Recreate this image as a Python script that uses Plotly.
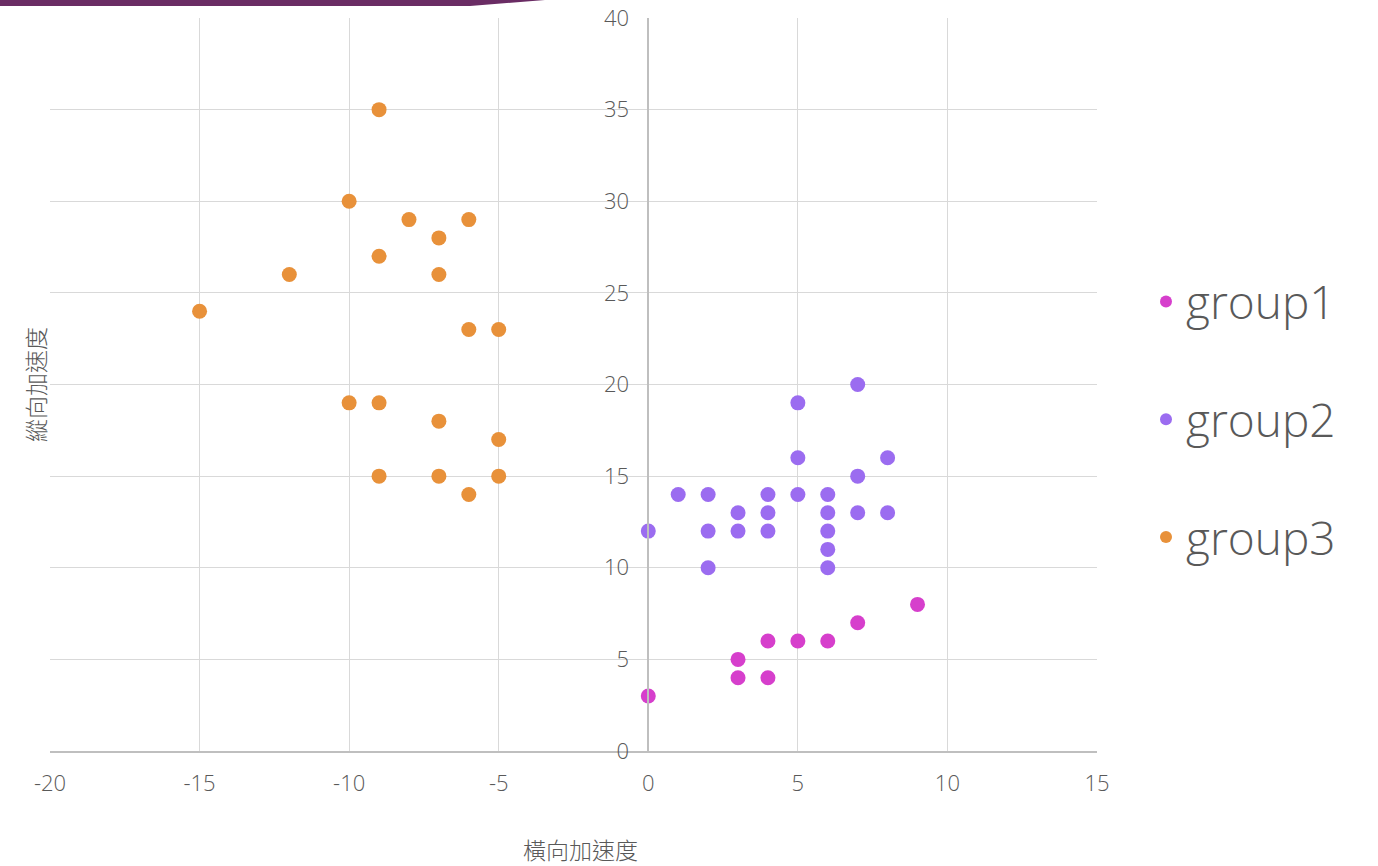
import plotly.graph_objects as go

# Lateral (x) and longitudinal (y) acceleration per group
group1_x = [0, 3, 3, 4, 4, 5, 6, 7, 9]
group1_y = [3, 5, 4, 6, 4, 6, 6, 7, 8]

group2_x = [0, 1, 2, 2, 2, 3, 3, 4, 4, 4, 5, 5, 5, 6, 6, 6, 6, 6, 7, 7, 7, 8, 8]
group2_y = [12, 14, 14, 12, 10, 13, 12, 14, 13, 12, 19, 16, 14, 14, 13, 12, 11, 10, 20, 15, 13, 16, 13]

group3_x = [-9, -10, -8, -6, -7, -9, -12, -7, -15, -6, -5, -10, -9, -7, -5, -9, -7, -5, -6]
group3_y = [35, 30, 29, 29, 28, 27, 26, 26, 24, 23, 23, 19, 19, 18, 17, 15, 15, 15, 14]

names = ["group1", "group2", "group3"]
colors = ["#d63fcc", "#9b6cf0", "#e8913a"]

x_range = [-20, 15]
y_range = [0, 40]
x_ticks = [-20, -15, -10, -5, 0, 5, 10, 15]
y_ticks = [0, 5, 10, 15, 20, 25, 30, 35, 40]

FONT = "'Open Sans', Lato, sans-serif"
CJK = "'Noto Sans CJK TC', 'Noto Sans CJK SC', sans-serif"
TEXT = "#595959"

fig = go.Figure()
for name, xs, ys, col in zip(names, [group1_x, group2_x, group3_x],
                             [group1_y, group2_y, group3_y], colors):
    fig.add_trace(go.Scatter(
        x=xs, y=ys, mode="markers", name=name, legendgroup=name,
        marker=dict(color=col, size=15, line=dict(width=0)),
    ))

# plot area in pixels: left 50, right 1097, top 18, bottom 751
W, H = 1378, 866
L, R, T, B = 50, 1097, 18, 751
pw, ph = R - L, B - T


def px(x):
    return (x - L) / pw


def py(y):
    return (B - y) / ph


# decorative band along the top edge
band = (f"M {px(0)} {py(0)} L {px(545)} {py(0)} L {px(470)} {py(6)} "
        f"L {px(0)} {py(6)} Z")
fig.add_shape(type="path", path=band, xref="paper", yref="paper",
              fillcolor="#6a2c64", line=dict(width=0), layer="above")

fig.update_layout(
    width=W, height=H,
    margin=dict(l=L, r=W - R, t=T, b=H - B, autoexpand=False),
    paper_bgcolor="white", plot_bgcolor="white",
    font=dict(family=FONT, color=TEXT, weight=300),
    showlegend=True,
    legend=dict(
        x=px(1146), y=py(265), xanchor="left", yanchor="top",
        font=dict(size=46, color=TEXT, family=FONT, weight=300),
        tracegroupgap=55, itemsizing="constant",
        bgcolor="rgba(0,0,0,0)",
    ),
    xaxis=dict(
        range=x_range, tickvals=x_ticks, ticktext=[str(v) for v in x_ticks],
        showgrid=True, gridcolor="#d9d9d9", gridwidth=1,
        zeroline=True, zerolinecolor="#bfbfbf", zerolinewidth=1.5,
        showline=True, linecolor="#bfbfbf", linewidth=1.5,
        ticks="", tickfont=dict(size=22, color=TEXT, family=FONT, weight=300),
        ticklabelstandoff=12, fixedrange=True, automargin=False,
    ),
    yaxis=dict(
        range=y_range, tickvals=y_ticks, ticktext=[str(v) for v in y_ticks],
        anchor="free", position=20 / 35,
        showgrid=True, gridcolor="#d9d9d9", gridwidth=1,
        zeroline=False,
        showline=True, linecolor="#bfbfbf", linewidth=1.5,
        ticks="", tickfont=dict(size=22, color=TEXT, family=FONT, weight=300),
        ticklabelstandoff=14, fixedrange=True, automargin=False,
    ),
    annotations=[
        dict(text="橫向加速度", xref="paper", yref="paper",
             x=px(580), y=py(849), xanchor="center", yanchor="middle",
             showarrow=False,
             font=dict(size=23, color=TEXT, family=CJK, weight=300)),
        dict(text="縱向加速度", xref="paper", yref="paper",
             x=px(35), y=py(385), xanchor="center", yanchor="middle",
             textangle=-90, showarrow=False,
             font=dict(size=23, color=TEXT, family=CJK, weight=300)),
    ],
)

fig.write_html("out.html")
